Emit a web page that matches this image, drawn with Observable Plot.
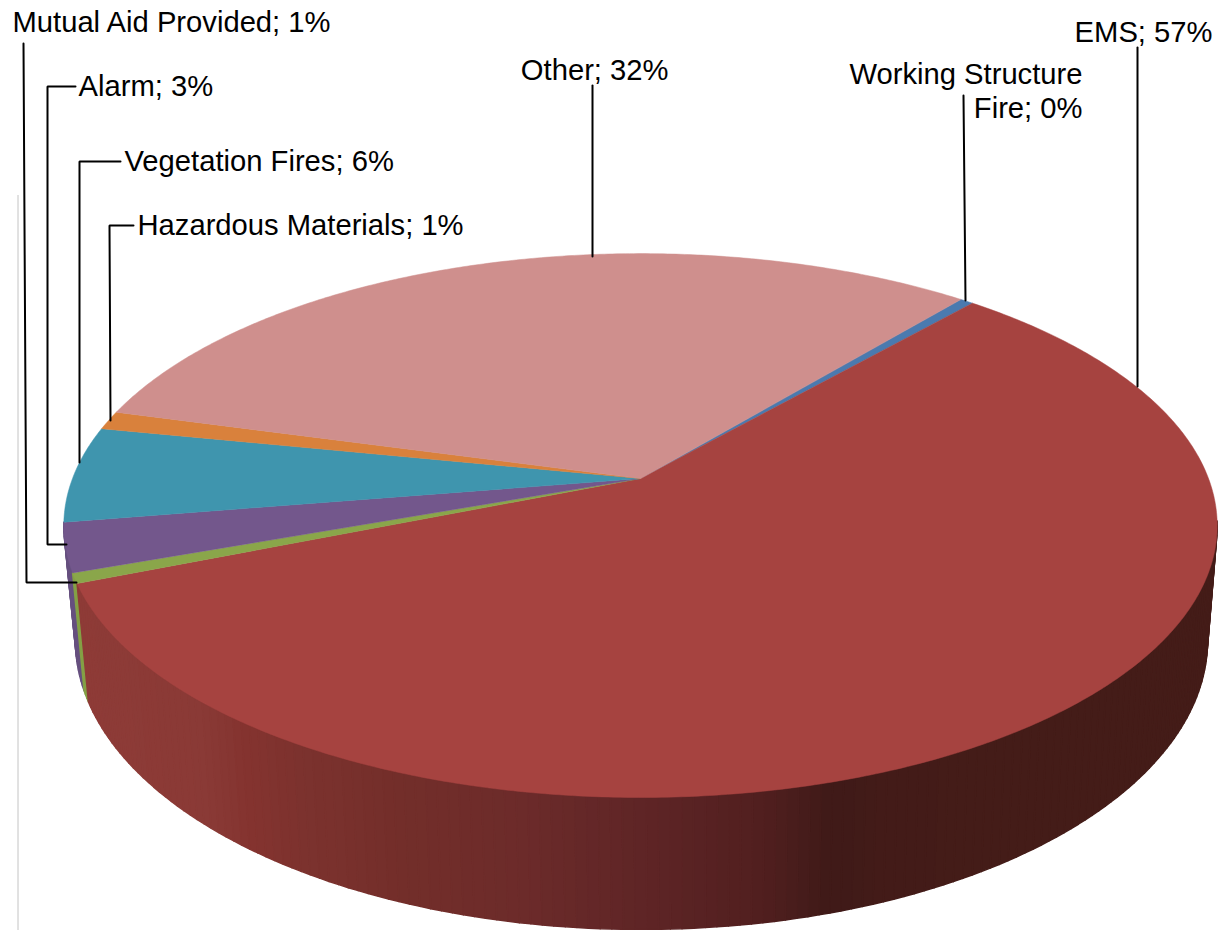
<!DOCTYPE html>
<html>
<head>
<meta charset="utf-8">
<script src="https://cdn.jsdelivr.net/npm/d3@7"></script>
<script src="https://cdn.jsdelivr.net/npm/@observablehq/plot@0.6"></script>
<style>html,body{margin:0;padding:0;background:#fff}svg{display:block}</style>
</head>
<body>
<div id="chart"></div>
<script>
// Clockwise from the first slice.
const categories = ["Working Structure Fire","EMS","Mutual Aid Provided","Alarm","Vegetation Fires","Hazardous Materials","Other"];
const shares = [0.45,57.45,0.6,2.9,5.7,1.1,31.8];
const topColors = ["#4a7aaf","#a64340","#8aa64a","#73578c","#3f95ae","#d9813c","#cf8f8d"];
const wallColors = [null,null,"#84a045","#66507f",null,null,null];
const startAngle = -50.3;

// Shading of the EMS wall, left to right across the picture.
const shadeX = [80,200,245,300,400,520,640,760,830,880,1000,1220];
const shadeC = ["#8e3b37","#8a3a36","#84332f","#7c322e","#732e2a","#6c2b2a","#5f2526","#511f1f","#3f1a18","#431b18","#441c18","#441c18"];

// Label text blocks and their leaders.
const labelLines = {
  "Working Structure Fire":"Working Structure\nFire",
};
const labelPlace = [
  {i:0,x:1082,y:90,anchor:"end"},
  {i:1,x:1212,y:31,anchor:"end"},
  {i:2,x:12,y:21,anchor:"start"},
  {i:3,x:78,y:85,anchor:"start"},
  {i:4,x:124,y:160,anchor:"start"},
  {i:5,x:137,y:224,anchor:"start"},
  {i:6,x:668,y:69,anchor:"end"}
];
const leaders = [
  [[963,95],[965,300]],
  [[1137,47],[1137,386]],
  [[23,43],[26,582],[76,582]],
  [[75,86],[47,86],[47,544],[66,544]],
  [[120,161],[79,161],[79,462]],
  [[133,225],[109,225],[110,420]],
  [[592,85],[592,256]]
];

// Perspective view of a disc: a near point is larger than a far one.
const k = 0.173;
const topDisc = {cx:640,cy:478,h:568,v:263.8};
const baseDisc = {cx:641,cy:590,h:557.5,v:280.3};
const project = (d,deg) => {
  const t = deg*Math.PI/180, c = Math.cos(t), s = Math.sin(t), w = 1-k*s;
  return [d.cx+d.h*c/w, d.cy+d.v*s/w];
};

// Slice angles from the shares.
let run = startAngle;
const slices = shares.map((v,i) => {
  const a0 = run; run += v*3.6;
  return {i,a0,a1:run};
});

const shade = d3.scaleLinear().domain(shadeX).range(shadeC).clamp(true);

// Wall strips, far ones first; the wall is seen only from the right tangent round the front.
const strips = [];
for (const sl of slices) {
  const lo = Math.max(sl.a0,9), hi = sl.a1;
  if (hi<=lo || sl.i>3 || sl.i===0) continue;
  const n = Math.max(1,Math.ceil((hi-lo)/1));
  for (let j=0;j<n;j++){
    const a = lo+(hi-lo)*j/n, b = lo+(hi-lo)*(j+1)/n;
    const ta = project(topDisc,a), tb = project(topDisc,b), ba = project(baseDisc,a), bb = project(baseDisc,b);
    const color = wallColors[sl.i] || shade((ta[0]+tb[0])/2);
    strips.push({order:Math.sin((a+b)/2*Math.PI/180),color,pts:[ta,tb,bb,ba]});
  }
}
strips.sort((p,q)=>p.order-q.order);
const wallRows = strips.flatMap((s,id)=>s.pts.map(p=>({id,x:p[0],y:p[1],color:s.color})));

// Top face.
const topRows = slices.flatMap(sl=>{
  const rows=[{id:sl.i,x:topDisc.cx,y:topDisc.cy,color:topColors[sl.i]}];
  const n=Math.max(2,Math.ceil((sl.a1-sl.a0)/0.5));
  for(let j=0;j<=n;j++){
    const p=project(topDisc,sl.a0+(sl.a1-sl.a0)*j/n);
    rows.push({id:sl.i,x:p[0],y:p[1],color:topColors[sl.i]});
  }
  return rows;
});

const leaderRows = leaders.flatMap((l,id)=>l.map(p=>({id,x:p[0],y:p[1]})));
const labelRows = labelPlace.map(p=>{
  const name = categories[p.i];
  return {...p,text:(labelLines[name]||name)+"; "+Math.round(shares[p.i])+"%"};
});
const font = "Liberation Sans, Arial, sans-serif";

const chart = Plot.plot({
  width:1221,height:930,margin:0,
  x:{domain:[0,1221],range:[0,1221],axis:null},
  y:{domain:[0,930],range:[0,930],axis:null},
  marks:[
    Plot.ruleX([17.5],{y1:195,y2:930,stroke:"#c4c4c4",strokeWidth:1}),
    Plot.line(wallRows,{x:"x",y:"y",z:"id",fill:"color",stroke:"color",strokeWidth:1.5,curve:"linear-closed"}),
    Plot.line(topRows,{x:"x",y:"y",z:"id",fill:"color",stroke:"color",strokeWidth:0.5,curve:"linear-closed"}),
    Plot.line(leaderRows,{x:"x",y:"y",z:"id",stroke:"#000",strokeWidth:2,curve:"linear",strokeLinejoin:"miter"}),
    Plot.text(labelRows.filter(d=>d.anchor==="start"),{x:"x",y:"y",text:"text",textAnchor:"start",fontSize:29.2,fontFamily:font,fill:"#000",lineHeight:1.16}),
    Plot.text(labelRows.filter(d=>d.anchor==="end"),{x:"x",y:"y",text:"text",textAnchor:"end",fontSize:29.2,fontFamily:font,fill:"#000",lineHeight:1.16})
  ]
});
document.getElementById("chart").appendChild(chart);
</script>
</body>
</html>
